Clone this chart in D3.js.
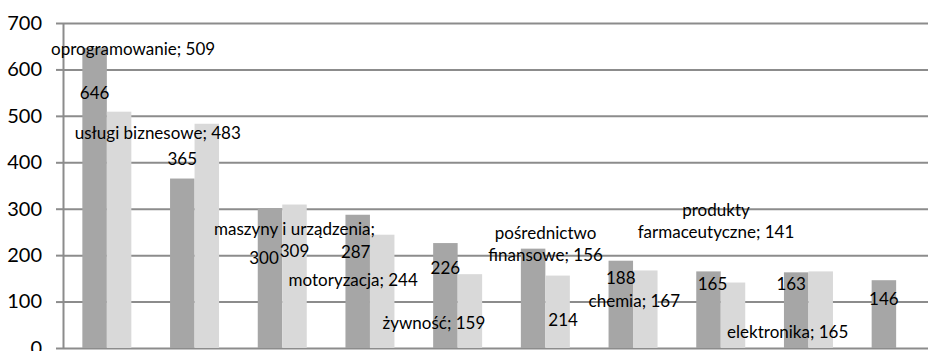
<!DOCTYPE html>
<html lang="pl">
<head>
<meta charset="utf-8">
<script src="https://cdn.jsdelivr.net/npm/d3@7"></script>
<style>
  html, body { margin: 0; padding: 0; background: #fff; }
  svg { display: block; }
  text { font-family: Lato, "Liberation Sans", sans-serif; fill: #000; }
</style>
</head>
<body>
<svg id="chart" width="928" height="351"></svg>
<script>
// Sectors (the last group only has a value in the first series)
const categories = [
  "oprogramowanie", "usługi biznesowe", "maszyny i urządzenia", "motoryzacja",
  "żywność", "pośrednictwo finansowe", "chemia", "produkty farmaceutyczne",
  "elektronika", "inne"
];
const seriesNames = ["A", "B"];
const seriesA = [646, 365, 300, 287, 226, 214, 188, 165, 163, 146];
const seriesB = [509, 483, 309, 244, 159, 156, 167, 141, 165, null];
const yTicks = [0, 100, 200, 300, 400, 500, 600, 700];

// Hand-placed data label offsets (px) relative to the top centre of each bar
const labelOffsetsA = [
  [0, 44], [0, -20], [-6, 49], [-2, 37], [0, 24],
  [30, 71], [0, 17], [4, 12], [-5, 11], [0, 18]
];
const labelOffsetsB = [
  { dx: 14, dy: -64, wrap: 0 },
  { dx: -49, dy: 8, wrap: 0 },
  { dx: 0, dy: 23, wrap: 3 },
  { dx: -29, dy: 44, wrap: 0 },
  { dx: -36, dy: 48, wrap: 0 },
  { dx: -12, dy: -44, wrap: 1 },
  { dx: -11, dy: 30, wrap: 0 },
  { dx: -17, dy: -74, wrap: 1 },
  { dx: -33, dy: 60, wrap: 0 }
];

const svg = d3.select("#chart");
const plotLeft = 63, plotTop = 23, plotBottom = 348, plotRight = 940;

const x0 = d3.scaleBand().domain(categories).range([plotLeft, plotRight]).paddingInner(0).paddingOuter(0);
const x1 = d3.scaleBand().domain(seriesNames).range([0, x0.bandwidth()]).paddingInner(0).paddingOuter(0.79);
const y = d3.scaleLinear().domain([0, 700]).range([plotBottom, plotTop]);

// Gridlines
svg.append("g")
  .attr("transform", `translate(${plotLeft},0)`)
  .call(d3.axisLeft(y).tickValues(yTicks).tickSize(-(plotRight - plotLeft)).tickFormat(""))
  .call(g => g.select(".domain").remove())
  .call(g => g.selectAll("line").attr("stroke", "#8c8c8c").attr("stroke-width", 2));

// Y axis
svg.append("g")
  .attr("transform", `translate(${plotLeft},0)`)
  .call(d3.axisLeft(y).tickValues(yTicks).tickSize(7).tickPadding(14).tickSizeOuter(0))
  .call(g => g.select(".domain").attr("stroke", "#8c8c8c").attr("stroke-width", 2))
  .call(g => g.selectAll(".tick line").attr("stroke", "#8c8c8c").attr("stroke-width", 2))
  .call(g => g.selectAll("text").attr("font-size", 20).attr("font-family", "Lato, 'Liberation Sans', sans-serif").attr("fill", "#000"));

const rowsA = categories.map((c, i) => ({ c, v: seriesA[i], i }));
const rowsB = categories.map((c, i) => ({ c, v: seriesB[i], i })).filter(d => d.v != null);

// Bars
svg.append("g").selectAll("rect").data(rowsA).join("rect")
  .attr("x", d => x0(d.c) + x1("A"))
  .attr("y", d => y(d.v))
  .attr("width", x1.bandwidth())
  .attr("height", d => y(0) - y(d.v))
  .attr("fill", "#a6a6a6");

svg.append("g").selectAll("rect").data(rowsB).join("rect")
  .attr("x", d => x0(d.c) + x1("B"))
  .attr("y", d => y(d.v))
  .attr("width", x1.bandwidth())
  .attr("height", d => y(0) - y(d.v))
  .attr("fill", "#d9d9d9");

// Value labels for the first series
svg.append("g").selectAll("text").data(rowsA).join("text")
  .attr("x", d => x0(d.c) + x1("A") + x1.bandwidth() / 2 + labelOffsetsA[d.i][0])
  .attr("y", d => y(d.v) + labelOffsetsA[d.i][1])
  .attr("text-anchor", "middle")
  .attr("dominant-baseline", "central")
  .attr("font-size", 17)
  .text(d => d.v);

// "category; value" labels for the second series
const lineHeight = 22;
const labB = svg.append("g").selectAll("text").data(rowsB).join("text")
  .attr("text-anchor", "middle")
  .attr("dominant-baseline", "central")
  .attr("font-size", 17);

labB.each(function(d) {
  const o = labelOffsetsB[d.i];
  const cx = x0(d.c) + x1("B") + x1.bandwidth() / 2 + o.dx;
  const cy = y(d.v) + o.dy;
  const words = `${d.c}; ${d.v}`.split(" ");
  const lines = o.wrap ? [words.slice(0, o.wrap).join(" "), words.slice(o.wrap).join(" ")] : [words.join(" ")];
  d3.select(this).selectAll("tspan").data(lines).join("tspan")
    .attr("x", cx)
    .attr("y", (l, k) => cy + k * lineHeight)
    .text(l => l);
});
</script>
</body>
</html>
